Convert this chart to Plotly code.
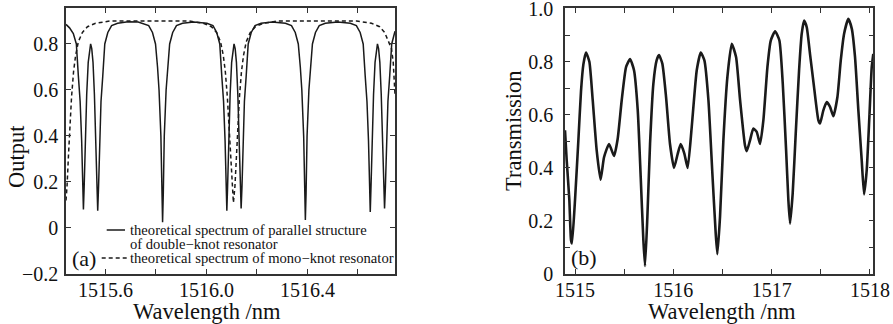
import plotly.graph_objects as go

# ---------------- Panel (a): theoretical spectra ----------------
a_solid_x = [
    1515.444, 1515.458, 1515.473, 1515.485, 1515.493, 1515.500, 1515.506, 1515.510, 1515.513,
    1515.516, 1515.520, 1515.526, 1515.532, 1515.537, 1515.5415, 1515.546, 1515.551, 1515.5565,
    1515.5625, 1515.5665, 1515.5696, 1515.573, 1515.5766, 1515.5826, 1515.5896, 1515.5976,
    1515.6096, 1515.6246, 1515.6486, 1515.69, 1515.73,
    1515.7475, 1515.7715, 1515.7865, 1515.7985, 1515.8065, 1515.8125, 1515.8198, 1515.8237,
    1515.8265, 1515.8293, 1515.8332, 1515.8405, 1515.8465, 1515.8545, 1515.8665, 1515.8815,
    1515.9055, 1515.95,
    1516.002, 1516.026, 1516.041, 1516.053, 1516.061, 1516.068, 1516.074, 1516.078, 1516.081,
    1516.084, 1516.088, 1516.094, 1516.100, 1516.105, 1516.1095, 1516.114, 1516.119, 1516.1245,
    1516.1305, 1516.1345, 1516.1376, 1516.141, 1516.1446, 1516.1506, 1516.1576, 1516.1656,
    1516.1776, 1516.1926, 1516.2166, 1516.26,
    1516.313, 1516.337, 1516.352, 1516.364, 1516.372, 1516.378, 1516.3853, 1516.3892, 1516.392,
    1516.3948, 1516.3987, 1516.406, 1516.412, 1516.420, 1516.432, 1516.447, 1516.471, 1516.52,
    1516.570, 1516.594, 1516.609, 1516.621, 1516.629, 1516.636, 1516.642, 1516.646, 1516.649,
    1516.652, 1516.656, 1516.662, 1516.668, 1516.673, 1516.6775, 1516.682, 1516.687, 1516.6925,
    1516.6985, 1516.7025, 1516.7056, 1516.709, 1516.713, 1516.719, 1516.726, 1516.734, 1516.747,
]
a_solid_y = [
    0.885, 0.87, 0.845, 0.80, 0.66, 0.55, 0.38, 0.18, 0.08,
    0.18, 0.38, 0.58, 0.72, 0.77, 0.80, 0.78, 0.72, 0.58,
    0.38, 0.18, 0.075, 0.18, 0.38, 0.55, 0.66, 0.80,
    0.85, 0.88, 0.89, 0.897, 0.895,
    0.89, 0.88, 0.85, 0.80, 0.70, 0.60, 0.40, 0.15,
    0.025, 0.15, 0.40, 0.60, 0.70, 0.80, 0.85, 0.88,
    0.89, 0.895,
    0.89, 0.88, 0.85, 0.80, 0.66, 0.55, 0.38, 0.18, 0.075,
    0.18, 0.38, 0.58, 0.72, 0.77, 0.80, 0.78, 0.72, 0.58,
    0.38, 0.18, 0.085, 0.18, 0.38, 0.55, 0.66, 0.80,
    0.85, 0.88, 0.89, 0.895,
    0.89, 0.88, 0.85, 0.80, 0.70, 0.60, 0.40, 0.15, 0.035,
    0.15, 0.40, 0.60, 0.70, 0.80, 0.85, 0.88, 0.89, 0.895,
    0.89, 0.88, 0.85, 0.80, 0.66, 0.55, 0.38, 0.18, 0.07,
    0.18, 0.38, 0.58, 0.72, 0.77, 0.80, 0.78, 0.72, 0.58,
    0.38, 0.18, 0.085, 0.18, 0.38, 0.55, 0.66, 0.80, 0.855,
]

a_dash_x = [
    1515.444, 1515.448, 1515.454, 1515.460, 1515.466, 1515.474, 1515.482, 1515.493, 1515.509,
    1515.529, 1515.561, 1515.62, 1515.75, 1515.929,
    1515.988, 1516.020, 1516.040, 1516.056, 1516.067, 1516.075, 1516.083, 1516.089, 1516.095,
    1516.101, 1516.107, 1516.113, 1516.119, 1516.125, 1516.131, 1516.139, 1516.147, 1516.158,
    1516.174, 1516.194, 1516.226, 1516.285, 1516.45, 1516.595,
    1516.654, 1516.686, 1516.706, 1516.722, 1516.733, 1516.740, 1516.744, 1516.747,
]
a_dash_y = [
    0.12, 0.18, 0.32, 0.45, 0.57, 0.68, 0.75, 0.81, 0.85,
    0.875, 0.89, 0.90, 0.90, 0.90,
    0.89, 0.875, 0.85, 0.81, 0.75, 0.68, 0.57, 0.45, 0.32,
    0.18, 0.11, 0.18, 0.32, 0.45, 0.57, 0.68, 0.75, 0.81,
    0.85, 0.875, 0.89, 0.90, 0.90, 0.90,
    0.89, 0.875, 0.85, 0.81, 0.78, 0.72, 0.64, 0.58,
]

a_x_tickvals = [1515.6, 1516.0, 1516.4]
a_x_ticktext = ["1515.6", "1516.0", "1516.4"]
a_x_minor = [1515.8, 1516.2, 1516.6]
a_y_tickvals = [-0.2, 0, 0.2, 0.4, 0.6, 0.8]
a_y_ticktext = ["\u22120.2", "0", "0.2", "0.4", "0.6", "0.8"]

# ---------------- Panel (b): measured transmission ----------------
b_x = [
    1514.898, 1514.915, 1514.942, 1514.959, 1514.969, 1515.000, 1515.034, 1515.061, 1515.085,
    1515.112, 1515.146, 1515.180, 1515.220, 1515.260, 1515.295, 1515.346, 1515.397, 1515.434,
    1515.475, 1515.519, 1515.560, 1515.600, 1515.638, 1515.668, 1515.695, 1515.712, 1515.736,
    1515.763, 1515.797, 1515.830, 1515.854, 1515.888, 1515.926, 1515.966, 1516.007, 1516.045,
    1516.075, 1516.112, 1516.146, 1516.187, 1516.238, 1516.279, 1516.316, 1516.357, 1516.397,
    1516.431, 1516.448, 1516.475, 1516.509, 1516.550, 1516.594, 1516.638, 1516.679, 1516.729,
    1516.747, 1516.780, 1516.814, 1516.848, 1516.882, 1516.916, 1516.957, 1516.991, 1517.035,
    1517.079, 1517.113, 1517.147, 1517.170, 1517.187, 1517.214, 1517.245, 1517.279, 1517.306,
    1517.330, 1517.357, 1517.390, 1517.431, 1517.475, 1517.492, 1517.526, 1517.560, 1517.594,
    1517.628, 1517.669, 1517.703, 1517.737, 1517.780, 1517.815, 1517.848, 1517.882, 1517.916,
    1517.940, 1517.967, 1517.994, 1518.018, 1518.034,
]
b_y = [
    0.542, 0.43, 0.28, 0.128, 0.115, 0.28, 0.504, 0.69, 0.79,
    0.835, 0.80, 0.655, 0.467, 0.355, 0.44, 0.49, 0.445, 0.51,
    0.655, 0.78, 0.81, 0.768, 0.617, 0.366, 0.128, 0.03, 0.216,
    0.49, 0.718, 0.805, 0.825, 0.793, 0.667, 0.49, 0.40, 0.454,
    0.49, 0.454, 0.40, 0.554, 0.768, 0.835, 0.805, 0.655, 0.379,
    0.153, 0.075, 0.216, 0.504, 0.743, 0.868, 0.818, 0.655, 0.484,
    0.463, 0.504, 0.548, 0.536, 0.49, 0.58, 0.78, 0.88, 0.915,
    0.88, 0.718, 0.467, 0.279, 0.19, 0.304, 0.53, 0.768, 0.906,
    0.955, 0.93, 0.83, 0.705, 0.58, 0.567, 0.617, 0.648, 0.63,
    0.595, 0.667, 0.805, 0.906, 0.962, 0.925, 0.818, 0.617, 0.429,
    0.30, 0.391, 0.592, 0.78, 0.83,
]
b_x_tickvals = [1515, 1516, 1517, 1518]
b_x_ticktext = ["1515", "1516", "1517", "1518"]
b_y_tickvals = [0, 0.2, 0.4, 0.6, 0.8, 1.0]
b_y_ticktext = ["0", "0.2", "0.4", "0.6", "0.8", "1.0"]

legend_lines = [
    "theoretical spectrum of parallel structure",
    "of double\u2212knot resonator",
    "theoretical spectrum of mono\u2212knot resonator",
]

# ---------------- Figure ----------------
W, H = 893, 324
FONT = "Liberation Serif"
INK = "#1a1a1a"


def px(x):
    return x / W


def py(y):
    return 1 - y / H


fig = go.Figure()
fig.add_trace(go.Scatter(x=a_solid_x, y=a_solid_y, mode="lines",
                         line=dict(color=INK, width=1.5), xaxis="x", yaxis="y",
                         showlegend=False, hoverinfo="skip"))
fig.add_trace(go.Scatter(x=a_dash_x, y=a_dash_y, mode="lines",
                         line=dict(color=INK, width=1.5, dash="4px,3px"), xaxis="x", yaxis="y",
                         showlegend=False, hoverinfo="skip"))
fig.add_trace(go.Scatter(x=b_x, y=b_y, mode="lines",
                         line=dict(color=INK, width=2.6, shape="spline", smoothing=0.5),
                         xaxis="x2", yaxis="y2", showlegend=False, hoverinfo="skip"))

ydom = [py(274), py(8.3)]
axis_common = dict(showline=True, linecolor="#333", linewidth=1.5, mirror="ticks",
                   ticks="inside", ticklen=5, tickwidth=1, tickcolor="#333",
                   showgrid=False, zeroline=False, automargin=False,
                   ticklabeloverflow="allow",
                   tickfont=dict(family=FONT, size=20, color="#111"))

fig.update_layout(
    width=W, height=H, margin=dict(l=0, r=0, t=0, b=0, pad=0), autosize=False,
    font=dict(family=FONT, color="#111"),
    paper_bgcolor="white", plot_bgcolor="white", showlegend=False,
    xaxis=dict(domain=[px(66), px(395)], range=[1515.444, 1516.747], anchor="y",
               tickmode="array", tickvals=a_x_tickvals, ticktext=a_x_ticktext,
               minor=dict(tickmode="array", tickvals=a_x_minor, ticks="inside", ticklen=5,
                          tickcolor="#333"),
               ticklabelstandoff=-3, **axis_common),
    yaxis=dict(domain=ydom, range=[-0.2, 0.955], anchor="x",
               tickmode="array", tickvals=a_y_tickvals, ticktext=a_y_ticktext,
               ticklabelstandoff=2, **axis_common),
    xaxis2=dict(domain=[px(565), px(873.3)], range=[1514.898, 1518.034], anchor="y2",
                tickmode="array", tickvals=b_x_tickvals, ticktext=b_x_ticktext,
                minor=dict(dtick=0.5, tick0=1515, ticks="inside", ticklen=5, tickcolor="#333"),
                ticklabelstandoff=-3, **axis_common),
    yaxis2=dict(domain=ydom, range=[0, 1.0015], anchor="x2",
                tickmode="array", tickvals=b_y_tickvals, ticktext=b_y_ticktext,
                minor=dict(dtick=0.1, tick0=0, ticks="inside", ticklen=5, tickcolor="#333"),
                ticklabelstandoff=6, **axis_common),
)

ann = []
title_font = dict(family=FONT, size=22.5, color="#111")
ann.append(dict(text="Output", x=px(17), y=py(157), textangle=-90, font=title_font))
ann.append(dict(text="Transmission", x=px(513), y=py(131), textangle=-90, font=title_font))
ann.append(dict(text="Wavelength /nm", x=px(207), y=py(311), font=title_font))
ann.append(dict(text="Wavelength /nm", x=px(722), y=py(311), font=title_font))
ann.append(dict(text="(a)", x=px(84), y=py(258), font=dict(family=FONT, size=22, color="#111")))
ann.append(dict(text="(b)", x=px(584), y=py(257), font=dict(family=FONT, size=22, color="#111")))
leg_font = dict(family=FONT, size=14.6, color="#111")
for txt, yy in zip(legend_lines, [230, 244, 258]):
    ann.append(dict(text=txt, x=px(128.3), y=py(yy), xanchor="left", font=leg_font))
for a in ann:
    a.update(xref="paper", yref="paper", showarrow=False)
    a.setdefault("xanchor", "center")
    a.setdefault("yanchor", "middle")
fig.update_layout(annotations=ann)

fig.update_layout(shapes=[
    dict(type="line", xref="paper", yref="paper", x0=px(106.7), x1=px(125), y0=py(230), y1=py(230),
         line=dict(color=INK, width=1.5)),
    dict(type="line", xref="paper", yref="paper", x0=px(101.7), x1=px(126.7), y0=py(258), y1=py(258),
         line=dict(color=INK, width=1.5, dash="4px,3px")),
])

fig.write_html("out.html", config={"displayModeBar": False},
               post_script="document.body.style.margin='0px';")
